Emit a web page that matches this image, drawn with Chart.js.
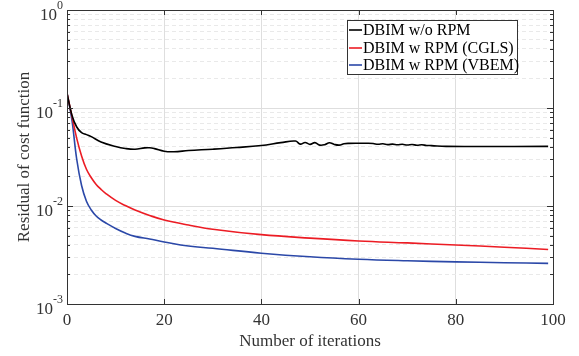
<!DOCTYPE html>
<html>
<head>
<meta charset="utf-8">
<script src="https://cdn.jsdelivr.net/npm/chart.js@4.4.1/dist/chart.umd.min.js"></script>
<style>
  html, body { margin: 0; padding: 0; background: #fff; }
  #wrap { width: 579px; height: 356px; }
</style>
</head>
<body>
<div id="wrap"><canvas id="myChart" width="579" height="356"></canvas></div>
<script>
// iterations / residual values
var seriesLabels = ['DBIM w/o RPM', 'DBIM w RPM (CGLS)', 'DBIM w RPM (VBEM)'];
var seriesColors = ['#000000', 'rgb(236, 28, 36)', 'rgb(43, 72, 168)'];

var blackIters = [0, 1, 2, 3, 4, 5, 7, 10, 12, 14, 16, 17, 18, 20, 22, 25, 30, 35, 40, 44, 47, 48, 49, 50, 51, 52, 53, 54, 55, 56, 57, 58, 60, 62, 63, 64, 65, 66, 67, 68, 69, 70, 71, 72, 73, 74, 75, 78, 85, 99];
var blackValues = [0.142, 0.085, 0.064, 0.056, 0.0535, 0.051, 0.045, 0.0405, 0.0386, 0.0379, 0.0392, 0.0393, 0.0385, 0.0362, 0.0358, 0.0368, 0.038, 0.0395, 0.0415, 0.0443, 0.046, 0.0428, 0.0445, 0.0425, 0.0443, 0.0418, 0.0422, 0.0442, 0.0425, 0.0418, 0.0432, 0.0436, 0.0437, 0.0437, 0.0434, 0.0426, 0.0431, 0.0423, 0.0428, 0.0421, 0.0426, 0.0419, 0.0424, 0.0417, 0.0421, 0.0415, 0.0413, 0.0406, 0.0405, 0.0406];

var redIters = [0, 1, 2, 3, 4, 5, 6, 7, 8, 10, 12, 14, 17, 20, 25, 30, 40, 50, 60, 70, 80, 90, 99];
var redValues = [0.142, 0.083, 0.049, 0.0324, 0.0237, 0.0194, 0.0166, 0.0148, 0.0134, 0.0114, 0.0101, 0.0091, 0.008, 0.0072, 0.0064, 0.0058, 0.0051, 0.0047, 0.0044, 0.0042, 0.004, 0.0038, 0.0036];

var blueIters = [0, 1, 2, 3, 4, 5, 6, 7, 8, 10, 12, 14, 17, 20, 25, 30, 40, 50, 60, 70, 80, 90, 99];
var blueValues = [0.142, 0.076, 0.030, 0.0162, 0.0112, 0.0091, 0.0079, 0.0072, 0.0067, 0.0059, 0.0053, 0.0049, 0.0046, 0.0043, 0.0039, 0.0037, 0.0033, 0.00303, 0.00286, 0.00276, 0.00269, 0.00264, 0.0026];

var xTicks = [0, 20, 40, 60, 80, 100];
var yExponents = [-3, -2, -1, 0];

var serif = "'Liberation Serif', 'Times New Roman', serif";

function toPoints(xs, ys) {
    return xs.map(function(x, i) { return { x: x, y: ys[i] }; });
}

// all the 1..9 x 10^k values between the decades
function logTickValues() {
    var vals = [];
    for (var e = yExponents[0]; e < yExponents[yExponents.length - 1]; e++) {
        for (var m = 1; m < 10; m++) {
            vals.push({ value: Number((m * Math.pow(10, e)).toPrecision(3)), major: m === 1 });
        }
    }
    vals.push({ value: Math.pow(10, yExponents[yExponents.length - 1]), major: true });
    return vals;
}

// box, inward ticks, superscript tick labels and the legend
var decorPlugin = {
    id: 'decor',
    afterDraw: function(chart) {
        var ctx = chart.ctx;
        var a = chart.chartArea;
        var xs = chart.scales.x, ys = chart.scales.y;
        ctx.save();
        ctx.strokeStyle = '#333';
        ctx.lineWidth = 1;

        ys.ticks.forEach(function(t) {
            var py = Math.round(ys.getPixelForValue(t.value)) + 0.5;
            var len = t.major ? 6 : 3;
            ctx.beginPath();
            ctx.moveTo(a.left, py); ctx.lineTo(a.left + len, py);
            ctx.moveTo(a.right, py); ctx.lineTo(a.right - len, py);
            ctx.stroke();
        });
        xTicks.forEach(function(v) {
            var px = Math.round(xs.getPixelForValue(v)) + 0.5;
            ctx.beginPath();
            ctx.moveTo(px, a.bottom); ctx.lineTo(px, a.bottom - 5);
            ctx.moveTo(px, a.top); ctx.lineTo(px, a.top + 5);
            ctx.stroke();
        });
        ctx.strokeRect(Math.round(a.left) + 0.5, Math.round(a.top) + 0.5,
            Math.round(a.right - a.left), Math.round(a.bottom - a.top));

        // 10^k labels
        ctx.fillStyle = '#333';
        ctx.textAlign = 'right';
        ctx.textBaseline = 'alphabetic';
        yExponents.forEach(function(e) {
            var py = ys.getPixelForValue(Math.pow(10, e));
            var sup = e < 0 ? '-' + (-e) : String(e);
            ctx.font = '12px ' + serif;
            var supW = ctx.measureText(sup).width;
            ctx.fillText(sup, a.left - 4, py - 1);
            ctx.font = '17px ' + serif;
            ctx.fillText('10', a.left - 4 - supW, py + 10);
        });

        // legend
        var lx = 347, ly = 20, lw = 170, lh = 54;
        ctx.fillStyle = '#fff';
        ctx.fillRect(lx, ly, lw, lh);
        ctx.strokeStyle = '#333';
        ctx.strokeRect(lx + 0.5, ly + 0.5, lw, lh);
        var rows = [30, 48, 65];
        chart.data.datasets.forEach(function(ds, i) {
            ctx.strokeStyle = ds.borderColor;
            ctx.lineWidth = 1.6;
            ctx.beginPath();
            ctx.moveTo(lx + 2, rows[i]); ctx.lineTo(lx + 15, rows[i]);
            ctx.stroke();
            ctx.fillStyle = '#000';
            ctx.font = '16px ' + serif;
            ctx.textAlign = 'left';
            ctx.textBaseline = 'middle';
            ctx.fillText(ds.label, lx + 16, rows[i] + 1);
        });
        ctx.restore();
    }
};

var ctx = document.getElementById('myChart').getContext('2d');
var myChart = new Chart(ctx, {
    type: 'line',
    data: {
        datasets: [
            { label: seriesLabels[0], data: toPoints(blackIters, blackValues), borderColor: seriesColors[0] },
            { label: seriesLabels[1], data: toPoints(redIters, redValues), borderColor: seriesColors[1] },
            { label: seriesLabels[2], data: toPoints(blueIters, blueValues), borderColor: seriesColors[2] }
        ]
    },
    options: {
        responsive: false,
        animation: false,
        devicePixelRatio: 1,
        layout: { padding: { left: 0, right: 26, top: 10, bottom: 0 } },
        elements: {
            point: { radius: 0 },
            line: { borderWidth: 1.6, tension: 0.4, fill: false }
        },
        plugins: { legend: { display: false }, tooltip: { enabled: false } },
        scales: {
            x: {
                type: 'linear',
                min: 0,
                max: 100,
                afterBuildTicks: function(scale) {
                    scale.ticks = xTicks.map(function(v) { return { value: v }; });
                },
                afterFit: function(scale) { scale.height = 52; },
                ticks: {
                    color: '#333',
                    padding: 6,
                    maxRotation: 0,
                    font: { family: serif, size: 17 }
                },
                grid: { color: '#dedede', drawTicks: false },
                border: { display: false },
                title: {
                    display: true,
                    text: 'Number of iterations',
                    color: '#333',
                    font: { family: serif, size: 17 },
                    padding: { top: 0, bottom: 4 }
                }
            },
            y: {
                type: 'logarithmic',
                min: 0.001,
                max: 1,
                afterBuildTicks: function(scale) { scale.ticks = logTickValues(); },
                afterFit: function(scale) { scale.width = 67; },
                ticks: { display: false },
                grid: {
                    drawTicks: false,
                    color: function(c) { return c.tick && c.tick.major ? '#dedede' : '#e9e9e9'; }
                },
                border: {
                    display: false,
                    dash: function(c) { return c.tick && !c.tick.major ? [4, 3] : []; }
                },
                title: {
                    display: true,
                    text: 'Residual of cost function',
                    color: '#333',
                    font: { family: serif, size: 17 },
                    padding: { top: 14, bottom: 0 }
                }
            }
        }
    },
    plugins: [decorPlugin]
});
</script>
</body>
</html>
